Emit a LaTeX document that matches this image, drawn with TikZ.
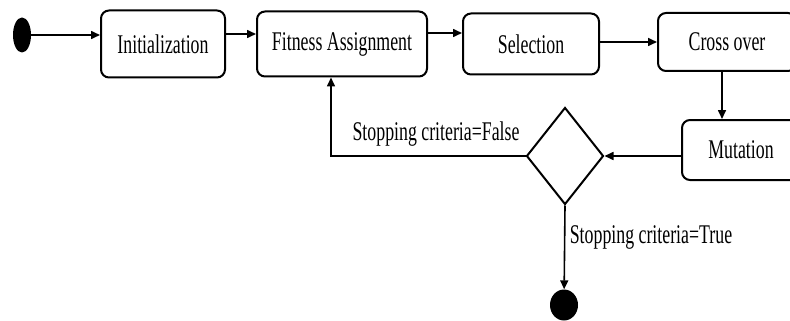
\documentclass[tikz,border=0pt]{standalone}
\usepackage{fontspec}
\setmainfont{Liberation Serif}
\usetikzlibrary{shapes.geometric,arrows.meta}
\newcommand{\narrowtext}[1]{\scalebox{0.66}[1]{#1}}

\begin{document}
\begin{tikzpicture}[x=1pt,y=-1pt]
        \tikzstyle{state} = [draw, line width=2pt, rounded corners=8pt, font=\fontsize{27}{30}\selectfont, inner sep=0pt]
        \tikzstyle{blk} = [draw, black, line width=1.6pt, -{Triangle[length=9pt,width=8pt]}]
        \tikzstyle{lbl} = [font=\fontsize{27}{30}\selectfont]
        \clip (0,0) rectangle (790,321);
        
        \node[ellipse, fill=black, minimum width=18pt, minimum height=35pt, inner sep=0pt] (start) at (22,35) {};
        \node[state, minimum width=124pt, minimum height=67pt] (init) at (163,44) {\narrowtext{Initialization}};
        \node[state, minimum width=170pt, minimum height=65pt] (fitness) at (342,44) {\narrowtext{Fitness Assignment}};
        \node[state, minimum width=136pt, minimum height=61pt] (selection) at (531,44) {\narrowtext{Selection}};
        \node[state, minimum width=138pt, minimum height=58pt] (crossover) at (727,42) {\narrowtext{Cross over}};
        \node[state, minimum width=118pt, minimum height=60pt] (mutation) at (741,150) {\narrowtext{Mutation}};
        \node[draw, diamond, line width=2pt, aspect=0.8, minimum width=77pt, minimum height=97pt, inner sep=0pt] (decision) at (565,156) {};
        \node[ellipse, fill=black, minimum width=28pt, minimum height=31pt, inner sep=0pt] (final) at (564,305) {};
        
        \path[blk] (start) -- (start -| init.west);
        \path[blk] ([yshift=10pt]init.east) -- ([yshift=10pt]fitness.west);
        \path[blk] ([yshift=11pt]fitness.east) -- ([yshift=11pt]selection.west);
        \path[blk] ([yshift=2pt]selection.east) -- (crossover.west);
        \path[blk] ([xshift=-5pt]crossover.south) -- ([xshift=-5pt]crossover.south |- mutation.north);
        \path[blk] (mutation.west |- decision.east) -- (decision.east);
        \path[blk] (decision.west) -| ([xshift=-11pt]fitness.south) node[lbl, pos=0.23, above=6pt] {\narrowtext{Stopping criteria=False}};
        \path[blk] (decision.south) -- (final) node[lbl, pos=0.38, right=1pt] {\narrowtext{Stopping criteria=True}};
    \end{tikzpicture}
\end{document}
